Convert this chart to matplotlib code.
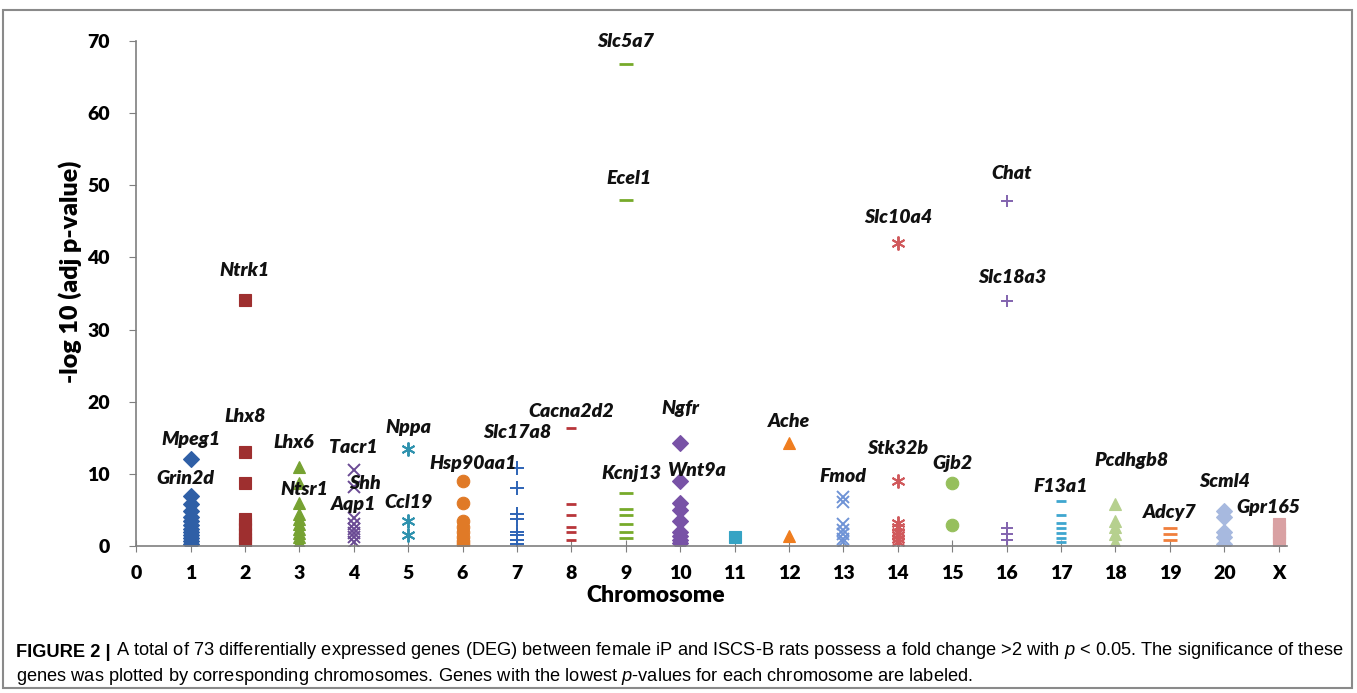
import matplotlib
matplotlib.use("Agg")
import matplotlib.pyplot as plt
from matplotlib.patches import Rectangle

# chromosome positions (X plotted at 21)
chrom_ticks = list(range(0, 22))
chrom_names = [str(i) for i in range(0, 21)] + ["X"]

# -log10(adj p) of DEGs per chromosome
chr1 = [12.1, 6.9, 5.8, 4.8, 4.0, 3.4, 2.9, 2.4, 1.9, 1.5, 1.1, 0.7, 0.3]
chr2 = [34.1, 13.1, 8.8, 3.7, 3.1, 2.4, 1.7, 1.0, 0.5]
chr3 = [10.9, 8.8, 6.0, 4.5, 3.7, 3.0, 2.4, 1.8, 1.2, 0.6]
chr4 = [10.5, 8.2, 3.9, 3.0, 2.4, 1.8, 1.2, 0.6]
chr5 = [13.4, 3.5, 1.5]
chr6 = [9.0, 6.0, 3.4, 2.6, 1.9, 1.3, 0.7, 0.3]
chr7 = [10.8, 8.0, 4.4, 3.8, 2.0, 1.5, 0.9, 0.3]
chr8 = [16.4, 5.8, 4.3, 2.6, 1.9, 0.8]
chr9 = [66.8, 48.0, 7.4, 5.1, 4.3, 3.1, 2.0, 1.1]
chr10 = [14.3, 9.0, 6.0, 5.0, 3.4, 2.0, 1.4, 0.9, 0.4]
chr11 = [1.2]
chr12 = [14.3, 1.4]
chr13 = [6.8, 6.1, 3.1, 2.2, 1.6, 1.0, 0.5]
chr14 = [42.0, 9.0, 3.2, 2.6, 2.0, 1.5, 1.0, 0.5]
chr15 = [8.8, 2.9]
chr16 = [47.8, 33.9, 2.5, 1.6, 0.8]
chr17 = [6.2, 4.3, 3.2, 2.5, 1.8, 1.1, 0.5]
chr18 = [5.8, 3.5, 2.6, 1.6, 0.6]
chr19 = [2.5, 1.6, 0.8]
chr20 = [4.8, 4.0, 2.0, 1.2, 0.3]
chrX = [3.0, 2.4, 1.8, 1.2, 0.6]

series = [chr1, chr2, chr3, chr4, chr5, chr6, chr7, chr8, chr9, chr10,
          chr11, chr12, chr13, chr14, chr15, chr16, chr17, chr18, chr19, chr20, chrX]
colors = ["#2f5fa6", "#9e2f2f", "#76a232", "#6a4a94", "#2f92ae", "#e07a27", "#2d63b6",
          "#b8363a", "#77aa2a", "#7852a6", "#35a3c4", "#ef7d1f", "#6f93d6", "#d0595c",
          "#96bf5c", "#8263ae", "#3fa6cf", "#b6d08e", "#f07f3c", "#a7b9df", "#d9a1a3"]
markers = ["D", "s", "^", "x", (6, 2, 0), "o", "+", "_", "_", "D",
           "s", "^", "x", (6, 2, 0), "o", "+", "_", "^", "_", "D", "s"]
msizes = [8, 8.7, 9, 9, 10, 9, 10, 7, 10, 8, 9, 9, 9, 10, 9, 9, 7, 9, 10, 8, 9]

# labelled genes: name, chromosome, label y position
gene_names = ["Mpeg1", "Grin2d", "Lhx8", "Ntrk1", "Lhx6", "Ntsr1", "Tacr1", "Shh", "Aqp1",
              "Nppa", "Ccl19", "Hsp90aa1", "Slc17a8", "Cacna2d2", "Kcnj13", "Ngfr", "Wnt9a",
              "Slc5a7", "Ecel1", "Ache", "Fmod", "Slc10a4", "Stk32b", "Chat", "Slc18a3",
              "Gjb2", "F13a1", "Pcdhgb8", "Adcy7", "Scml4", "Gpr165"]
gene_x = [1.0, 0.9, 2.0, 2.0, 2.9, 3.1, 4.0, 4.2, 4.0, 5.0, 5.0, 6.2, 7.0, 8.0, 9.1,
          10.0, 10.3, 9.0, 9.05, 12.0, 13.0, 14.0, 14.0, 16.1, 16.1, 15.0, 17.0, 18.3,
          19.0, 20.0, 20.8]
gene_y = [14.7, 9.3, 18.0, 38.2, 14.4, 7.9, 13.7, 8.7, 5.8, 16.4, 6.0, 11.5, 15.7, 18.7,
          10.0, 19.1, 10.5, 69.9, 51.0, 17.3, 9.6, 45.6, 13.5, 51.6, 37.2, 11.4, 8.3,
          11.9, 4.7, 9.0, 5.4]

fig = plt.figure(figsize=(13.57, 6.93), dpi=100)
ax = fig.add_axes([0.1003, 0.2121, 0.848, 0.7287])

for i, vals in enumerate(series):
    xs = [i + 1] * len(vals)
    if markers[i] in ("x", "+", (6, 2, 0), "_"):
        ax.plot(xs, vals, linestyle="none", marker=markers[i], color=colors[i],
                markersize=msizes[i], markeredgewidth=2.0 if markers[i] == "_" else 1.4)
    else:
        ax.plot(xs, vals, linestyle="none", marker=markers[i], color=colors[i],
                markersize=msizes[i], markeredgecolor=colors[i], markeredgewidth=0.8)

for name, gx, gy in zip(gene_names, gene_x, gene_y):
    ax.text(gx, gy, name, ha="center", va="center", fontsize=14, fontweight="heavy",
            fontstyle="italic", family="Lato", color="#111111")

ax.set_xlim(0, 21.15)
ax.set_ylim(0, 70)
ax.set_xticks(chrom_ticks)
ax.set_xticklabels(chrom_names)
ax.set_yticks(range(0, 71, 10))
for s in ["top", "right"]:
    ax.spines[s].set_visible(False)
for s in ["left", "bottom"]:
    ax.spines[s].set_color("#7f7f7f")
    ax.spines[s].set_linewidth(1.2)
ax.tick_params(axis="y", direction="out", length=5, color="#7f7f7f", pad=14)
ax.tick_params(axis="x", direction="inout", length=8, color="#7f7f7f", pad=10)
for lab in ax.get_xticklabels() + ax.get_yticklabels():
    lab.set_fontweight("heavy")
    lab.set_fontsize(14)
    lab.set_family("Lato")

fig.text(656 / 1357, 1 - 595 / 693, "Chromosome", ha="center", va="center",
         fontsize=16.5, fontweight="heavy", family="Lato")
fig.text(70 / 1357, 1 - 272 / 693, "-log 10 (adj p-value)", ha="center", va="center",
         rotation=90, fontsize=18, fontweight="heavy", family="Lato")

# border box
fig.patches.append(Rectangle((3 / 1357, 5 / 693), 1349 / 1357, 678 / 693,
                             transform=fig.transFigure, fill=False,
                             edgecolor="#8a8a8a", linewidth=1.5))

# caption
plt.rcParams["mathtext.fontset"] = "custom"
plt.rcParams["mathtext.it"] = "Liberation Sans:italic"
plt.rcParams["mathtext.rm"] = "Liberation Sans"
t1 = fig.text(16 / 1357, 1 - 657 / 693, "FIGURE 2 |", fontsize=13.15, fontweight="bold",
              family="Liberation Sans", va="baseline")
ann = ax.annotate(" A total of 73 differentially expressed genes (DEG) between female iP and "
                  "ISCS-B rats possess a fold change >2 with $p$ < 0.05. The significance of these",
                  xy=(1, 0), xycoords=t1, va="bottom", ha="left", fontsize=13.15,
                  family="Liberation Sans", annotation_clip=False)
fig.text(16 / 1357, 1 - 681 / 693, "genes was plotted by corresponding chromosomes. Genes with "
         "the lowest $p$-values for each chromosome are labeled.", fontsize=13.15,
         family="Liberation Sans", va="baseline")

fig.savefig("out.png", dpi=100)
